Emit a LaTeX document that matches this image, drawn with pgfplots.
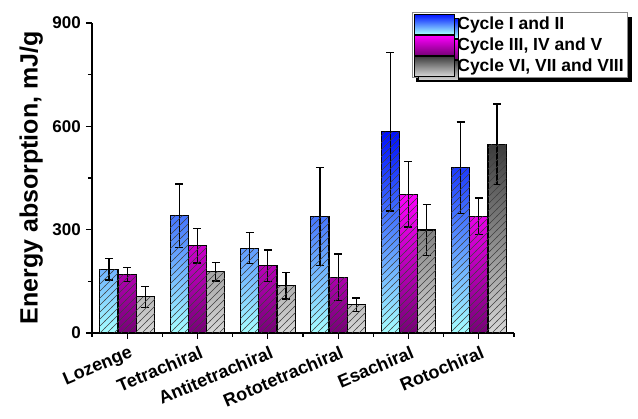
\documentclass[border=0pt]{standalone}
\usepackage{fontspec}
\setmainfont{Liberation Sans}
\usepackage{pgfplots}
\pgfplotsset{compat=1.18}
\usetikzlibrary{patterns,shadows}
\pgfdeclarepatternformonly{hatch}{\pgfqpoint{-0.5pt}{-0.5pt}}{\pgfqpoint{7.5pt}{7.5pt}}{\pgfqpoint{7pt}{7pt}}{%
  \pgfsetlinewidth{0.55pt}%
  \pgfpathmoveto{\pgfqpoint{-0.5pt}{-0.5pt}}%
  \pgfpathlineto{\pgfqpoint{7.5pt}{7.5pt}}%
  \pgfusepath{stroke}%
}
\definecolor{bluetop}{RGB}{0,16,255}
\definecolor{bluebot}{RGB}{165,255,255}
\definecolor{magtop}{RGB}{255,0,255}
\definecolor{magbot}{RGB}{120,0,120}
\definecolor{graytop}{RGB}{60,60,60}
\definecolor{graybot}{RGB}{215,215,215}
\pgfplotsset{
  hatchover/.style={forget plot, draw=none, fill=none, pattern=hatch, pattern color=black!75, error bars/y dir=none},
  ybar legend/.style={legend image code/.code={%
     \draw[##1, line width=1pt] (0pt,-10pt) rectangle (40pt,10pt);
     \begin{scope}
       \clip (0pt,-10pt) rectangle (40pt,10pt);
       \foreach \s in {-21,-14,-7,0,7,14,21,28,35}{\draw[black!75, line width=0.55pt] (\s pt,-10pt) -- ++(20pt,20pt);}
     \end{scope}
     \draw[black, line width=1pt] (0pt,-10pt) rectangle (40pt,10pt);}},
}
\begin{document}
\begin{tikzpicture}
\path[use as bounding box] (-92pt,-86pt) rectangle (546pt,333pt);
\begin{axis}[
  scale only axis,
  width=422pt, height=310pt,
  xmin=-0.5, xmax=5.5,
  ymin=0, ymax=900,
  axis x line*=bottom, axis y line*=left,
  axis line style={line width=1.2pt},
  ybar=0pt, bar width=0.26,
  xtick={0,1,2,3,4,5},
  xticklabels={Lozenge,Tetrachiral,Antitetrachiral,Rototetrachiral,Esachiral,Rotochiral},
  minor xtick={-0.5,0.5,1.5,2.5,3.5,4.5,5.5},
  ytick={0,300,600,900},
  minor ytick={150,450,750},
  tick align=outside,
  major tick length=6pt, minor tick length=4pt,
  every tick/.style={line width=1.2pt, black},
  /pgf/number format/assume math mode=true,
  yticklabel style={font=\fontsize{17}{19}\selectfont\bfseries, inner sep=1pt, xshift=-4pt},
  xticklabel style={font=\fontsize{18}{20}\selectfont\bfseries, rotate=23, anchor=north east, inner sep=1pt, yshift=-5pt},
  ylabel={Energy absorption, mJ/g},
  every axis y label/.style={at={(ticklabel cs:0.5,5pt)}, rotate=90, anchor=south,
     font=\fontsize{25}{28}\selectfont\bfseries},
  legend style={at={(0.758,1.035)}, anchor=north west,
    font=\fontsize{17.5}{19}\selectfont\bfseries,
    draw=black!45, line width=0.8pt, fill=white,
    drop shadow={shadow xshift=4pt, shadow yshift=-4pt, fill=black, opacity=1},
    inner xsep=2pt, inner ysep=1pt, row sep=0pt},
  legend cell align=left,
  error bars/y dir=both, error bars/y explicit,
  error bars/error bar style={line width=1.3pt, black},
  error bars/error mark options={rotate=90, mark size=4pt, line width=1.3pt, black},
  clip=false,
]
\addplot[draw=black, line width=1.1pt, top color=bluetop, bottom color=bluebot, bar shift=-0.26]
  coordinates {(0,185) +- (0,31) (1,341) +- (0,92) (2,246) +- (0,45) (3,338) +- (0,143) (4,584) +- (0,230) (5,480) +- (0,133)};
\addplot[draw=black, line width=1.1pt, top color=magtop, bottom color=magbot, bar shift=0]
  coordinates {(0,170) +- (0,20) (1,253) +- (0,50) (2,195) +- (0,46) (3,162) +- (0,67) (4,403) +- (0,95) (5,339) +- (0,53)};
\addplot[draw=black, line width=1.1pt, top color=graytop, bottom color=graybot, bar shift=0.26]
  coordinates {(0,105) +- (0,30) (1,178) +- (0,27) (2,137) +- (0,38) (3,82) +- (0,20) (4,299) +- (0,75) (5,548) +- (0,117)};
\legend{Cycle I and II, {Cycle III, IV and V}, {Cycle VI, VII and VIII}}
\addplot[hatchover, bar shift=-0.26] coordinates {(0,185) (1,341) (2,246) (3,338) (4,584) (5,480)};
\addplot[hatchover, bar shift=0] coordinates {(0,170) (1,253) (2,195) (3,162) (4,403) (5,339)};
\addplot[hatchover, bar shift=0.26] coordinates {(0,105) (1,178) (2,137) (3,82) (4,299) (5,548)};
\end{axis}
\end{tikzpicture}
\end{document}
